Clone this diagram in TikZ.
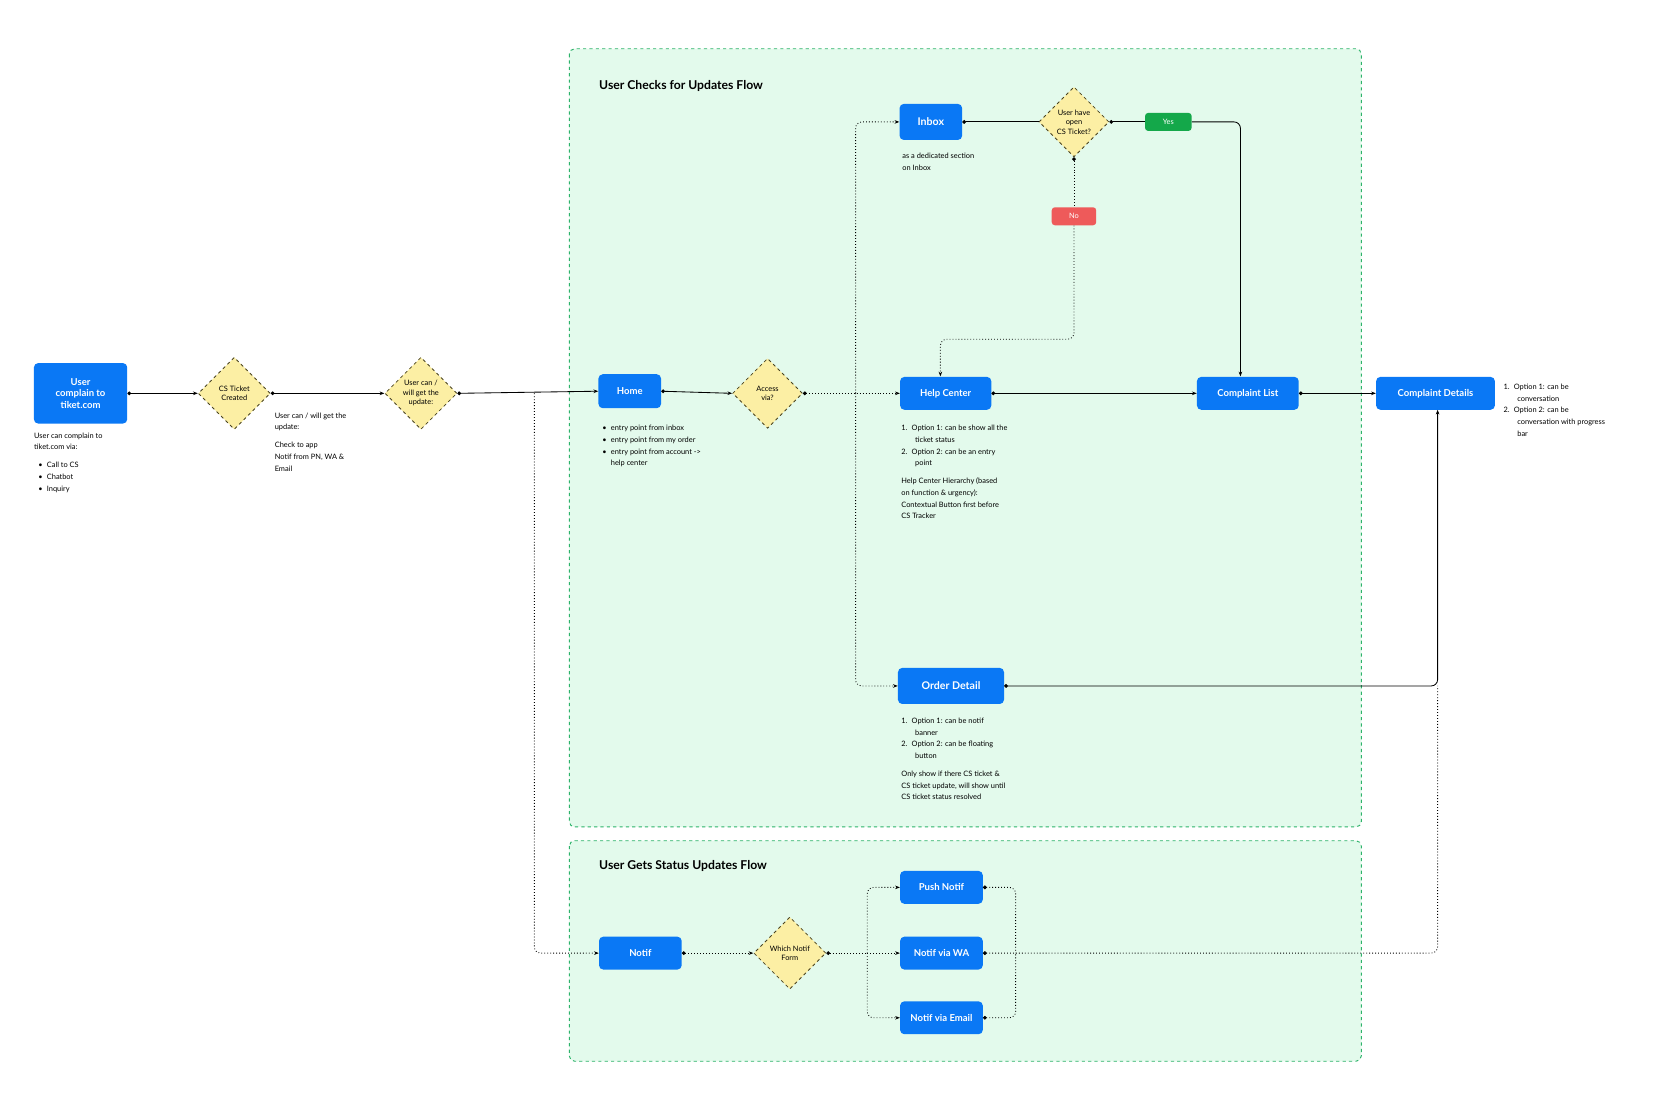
\documentclass[tikz,border=0pt]{standalone}
\usepackage{fontspec}
\setmainfont{Lato}
\usetikzlibrary{shapes.geometric,arrows.meta,positioning}
\definecolor{bblue}{HTML}{0A78F5}
\definecolor{gfill}{HTML}{E3FAEC}
\definecolor{gdash}{HTML}{2DB36A}
\definecolor{yfill}{HTML}{FCEFA4}
\definecolor{ydraw}{HTML}{4A4420}
\definecolor{yesg}{HTML}{14A84A}
\definecolor{nor}{HTML}{EE5A5A}
\begin{document}
\begin{tikzpicture}[x=1pt,y=-1pt,
 btn/.style={draw=none,fill=bblue,rounded corners=4pt,text=white,font=\bfseries\fontsize{9}{11}\selectfont,align=center,inner sep=0pt},
 dia/.style={diamond,aspect=1,draw=ydraw,dashed,line width=0.8pt,fill=yfill,minimum size=68pt,inner sep=0pt,align=center,font=\fontsize{7}{9}\selectfont},
 pill/.style={rounded corners=3pt,text=white,font=\fontsize{7}{9}\selectfont,minimum width=44pt,minimum height=17pt,inner sep=0pt},
 note/.style={align=left,anchor=north west,inner sep=0pt,font=\fontsize{7}{11}\selectfont},
 grp/.style={draw=gdash,dashed,line width=0.9pt,fill=gfill,rounded corners=5pt},
 ttl/.style={anchor=west,inner sep=0pt,font=\bfseries\fontsize{11.5}{13}\selectfont},
 con/.style={line width=0.8pt,{Circle[length=3.5pt]}-{Stealth[length=4.5pt]}},
 conn/.style={line width=0.8pt,{Circle[length=3.5pt]}-},
 dcon/.style={line width=0.8pt,dotted,{Circle[length=3.5pt]}-{Stealth[length=4.5pt]}},
 dln/.style={line width=0.8pt,dotted},
 ar/.style={line width=0.8pt,-{Stealth[length=4.5pt]}},
 dar/.style={line width=0.8pt,dotted,-{Stealth[length=4.5pt]}},
 rc/.style={rounded corners=6pt}]
\useasboundingbox (0,0) rectangle (1562,1044);
\fill[white] (0,0) rectangle (1562,1044);
% groups
\draw[grp] (537,46) rectangle (1284,780);
\draw[grp] (537,793) rectangle (1284,1001);
\node[ttl] (t1) at (565,81) {User Checks for Updates Flow};
\node[ttl] (t2) at (565,817) {User Gets Status Updates Flow};
% nodes
\node[btn,minimum width=88pt,minimum height=57pt] (user) at (76,371) {User\\complain to\\tiket.com};
\node[dia] (cs) at (221,371) {CS Ticket\\Created};
\node[dia] (upd) at (397,371) {User can /\\will get the\\update:};
\node[btn,minimum width=59pt,minimum height=32pt] (home) at (594,369) {Home};
\node[dia,minimum size=66pt] (acc) at (724,371) {Access\\via?};
\node[btn,minimum width=59pt,minimum height=34pt,font=\bfseries\fontsize{10}{12}\selectfont] (inbox) at (878,115) {Inbox};
\node[dia,minimum size=66pt] (open) at (1013,115) {User have\\open\\CS Ticket?};
\node[pill,fill=yesg] (yes) at (1102,115) {Yes};
\node[pill,fill=nor,minimum width=42pt] (no) at (1013,204) {No};
\node[btn,minimum width=86pt,minimum height=31pt] (hc) at (892,371) {Help Center};
\node[btn,minimum width=96pt,minimum height=31pt] (cl) at (1177,371) {Complaint List};
\node[btn,minimum width=112pt,minimum height=31pt] (cd) at (1354,371) {Complaint Details};
\node[btn,minimum width=100pt,minimum height=34pt,font=\bfseries\fontsize{10}{12}\selectfont] (od) at (897,647) {Order Detail};
\node[btn,minimum width=78pt,minimum height=31pt] (notif) at (604,899) {Notif};
\node[dia] (which) at (745,899) {Which Notif\\Form};
\node[btn,minimum width=78pt,minimum height=31pt] (push) at (888,837) {Push Notif};
\node[btn,minimum width=78pt,minimum height=31pt] (wa) at (888,899) {Notif via WA};
\node[btn,minimum width=78pt,minimum height=31pt] (mail) at (888,960) {Notif via Email};
% notes
\node[note] (n1) at (32,408) {User can complain to\\tiket.com via:\\[6pt]\hspace*{4pt}•\hspace{4pt}Call to CS\\\hspace*{4pt}•\hspace{4pt}Chatbot\\\hspace*{4pt}•\hspace{4pt}Inquiry};
\node[note] (n2) at (259,389) {User can / will get the\\update:\\[6pt]Check to app\\Notif from PN, WA \&\\Email};
\node[note] (n3) at (568,401) {•\hspace{4pt}entry point from inbox\\•\hspace{4pt}entry point from my order\\•\hspace{4pt}entry point from account ->\\\hspace*{8pt}help center};
\node[note] (n4) at (851,144) {as a dedicated section\\on Inbox};
\node[note] (n5) at (850,401) {1.\hspace{4pt}Option 1: can be show all the\\\hspace*{13pt}ticket status\\2.\hspace{4pt}Option 2: can be an entry\\\hspace*{13pt}point\\[6pt]Help Center Hierarchy (based\\on function \& urgency):\\Contextual Button first before\\CS Tracker};
\node[note] (n6) at (850,677) {1.\hspace{4pt}Option 1: can be notif\\\hspace*{13pt}banner\\2.\hspace{4pt}Option 2: can be floating\\\hspace*{13pt}button\\[6pt]Only show if there CS ticket \&\\CS ticket update, will show until\\CS ticket status resolved};
\node[note] (n7) at (1418,362) {1.\hspace{4pt}Option 1: can be\\\hspace*{13pt}conversation\\2.\hspace{4pt}Option 2: can be\\\hspace*{13pt}conversation with progress\\\hspace*{13pt}bar};
% connectors
\draw[con] (user.east) -- (cs.west);
\draw[con] (cs.east) -- (upd.west);
\draw[con] (upd.east) -- (home.west);
\draw[dar,rc] (504,371) -- (504,899) -- (notif.west);
\draw[con] (home.east) -- (acc.west);
\draw[dcon] (acc.east) -- (hc.west);
\draw[dar,rc] (807,371) -- (807,115) -- (inbox.west);
\draw[dar,rc] (807,371) -- (807,647) -- (od.west);
\draw[conn] (inbox.east) -- (open.west);
\draw[conn] (open.east) -- (yes.west);
\draw[ar,rc] (yes.east) -- (1170,115) -- (1170,355);
\draw[dln,{Circle[length=3.5pt]}-] (open.south) -- (no.north);
\draw[dar,rc] (no.south) -- (1013,320) -- (887,320) -- (887,355);
\draw[con] (hc.east) -- (cl.west);
\draw[con] (cl.east) -- (cd.west);
\draw[ar,rc,{Circle[length=3.5pt]}-{Stealth[length=4.5pt]}] (od.east) -- (1356,647) -- (1356,386.5);
\draw[dcon] (notif.east) -- (which.west);
\draw[dln,{Circle[length=3.5pt]}-] (which.east) -- (818,899);
\draw[dar,rc] (818,899) -- (818,837) -- (push.west);
\draw[dar] (818,899) -- (wa.west);
\draw[dar,rc] (818,899) -- (818,960) -- (mail.west);
\draw[dln,rc,{Circle[length=3.5pt]}-] (push.east) -- (958,837) -- (958,899);
\draw[dln,rc,{Circle[length=3.5pt]}-] (mail.east) -- (958,960) -- (958,899);
\draw[dln,rc,{Circle[length=3.5pt]}-] (wa.east) -- (1356,899) -- (1356,647);
\end{tikzpicture}
\end{document}
